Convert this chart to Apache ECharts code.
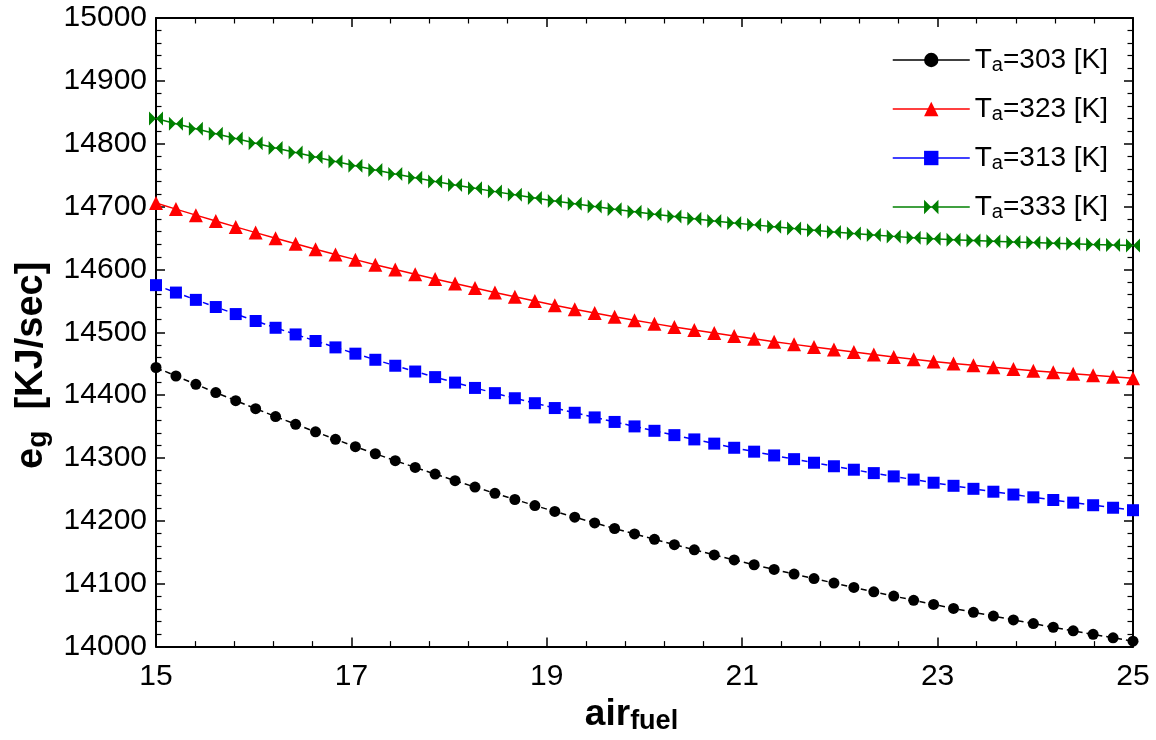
<!DOCTYPE html>
<html>
<head>
<meta charset="utf-8">
<script src="https://cdn.jsdelivr.net/npm/echarts@6/dist/echarts.min.js"></script>
<style>html,body{margin:0;padding:0;background:#fff}#c{width:1156px;height:740px}</style>
</head>
<body>
<div id="c"></div>
<script>
// ---- data ----
const airFuel = [15.000, 15.204, 15.408, 15.612, 15.816, 16.020, 16.224, 16.429, 16.633, 16.837,
  17.041, 17.245, 17.449, 17.653, 17.857, 18.061, 18.265, 18.469, 18.673, 18.878,
  19.082, 19.286, 19.490, 19.694, 19.898, 20.102, 20.306, 20.510, 20.714, 20.918,
  21.122, 21.327, 21.531, 21.735, 21.939, 22.143, 22.347, 22.551, 22.755, 22.959,
  23.163, 23.367, 23.571, 23.776, 23.980, 24.184, 24.388, 24.592, 24.796, 25.000];

const eg303 = [14444.0, 14430.5, 14417.2, 14404.1, 14391.2, 14378.5, 14366.0, 14353.7, 14341.6, 14329.7,
  14318.0, 14306.8, 14295.8, 14285.0, 14274.4, 14264.0, 14253.8, 14243.8, 14234.0, 14224.4,
  14215.0, 14205.8, 14196.8, 14187.9, 14179.2, 14170.6, 14162.2, 14153.9, 14145.8, 14137.8,
  14130.2, 14122.7, 14115.4, 14108.2, 14101.1, 14094.1, 14087.2, 14080.4, 14073.7, 14067.1,
  14060.8, 14054.6, 14048.5, 14042.5, 14036.6, 14030.8, 14025.1, 14019.5, 14014.0, 14008.6];

const eg323 = [14705.7, 14696.0, 14686.4, 14677.0, 14667.7, 14658.6, 14649.6, 14640.8, 14632.2, 14623.8,
  14615.6, 14607.6, 14599.8, 14592.2, 14584.8, 14577.5, 14570.4, 14563.4, 14556.5, 14549.7,
  14543.0, 14536.7, 14530.6, 14524.8, 14519.2, 14513.8, 14508.6, 14503.6, 14498.8, 14494.2,
  14489.6, 14485.1, 14480.8, 14476.6, 14472.5, 14468.5, 14464.6, 14460.8, 14457.1, 14453.6,
  14450.4, 14447.4, 14444.5, 14441.7, 14439.0, 14436.4, 14433.9, 14431.5, 14429.2, 14427.0];

const eg313 = [14575.0, 14563.2, 14551.6, 14540.2, 14529.0, 14518.0, 14507.2, 14496.6, 14486.2, 14476.0,
  14466.0, 14456.3, 14446.8, 14437.6, 14428.7, 14420.0, 14411.5, 14403.2, 14395.1, 14387.2,
  14379.5, 14372.0, 14364.6, 14357.4, 14350.3, 14343.3, 14336.4, 14329.6, 14322.9, 14316.3,
  14310.1, 14304.1, 14298.2, 14292.5, 14286.9, 14281.4, 14276.0, 14270.8, 14265.7, 14260.7,
  14255.8, 14251.0, 14246.4, 14241.9, 14237.5, 14233.2, 14229.0, 14224.9, 14220.9, 14217.0];

const eg333 = [14840.2, 14831.9, 14823.8, 14815.9, 14808.2, 14800.6, 14793.2, 14785.9, 14778.8, 14771.8,
  14765.0, 14758.3, 14751.8, 14745.8, 14740.0, 14734.4, 14729.0, 14723.8, 14718.7, 14713.8,
  14709.0, 14704.4, 14700.0, 14695.8, 14691.8, 14687.9, 14684.2, 14680.6, 14677.2, 14674.0,
  14670.9, 14667.9, 14665.0, 14662.3, 14659.7, 14657.2, 14654.8, 14652.6, 14650.5, 14648.7,
  14647.4, 14646.2, 14645.0, 14643.8, 14642.7, 14641.7, 14640.7, 14639.7, 14638.8, 14638.0];

const seriesNames = ['T_a=303 [K]', 'T_a=323 [K]', 'T_a=313 [K]', 'T_a=333 [K]'];
const xTicks = { min: 15, max: 25, step: 2 };
const yTicks = { min: 14000, max: 15000, step: 100 };
const xTitle = ['air', 'fuel'];
const yTitle = ['e', 'g', '  [KJ/sec]'];

// ---- chart ----
const FONT = '"Liberation Sans", Arial, Helvetica, sans-serif';
const pairs = ys => airFuel.map((x, i) => [x, ys[i]]);
const bowtie = 'path://M0,0L6,6L0,12ZM12,0L6,6L12,12Z';

function frameAxis(base, show, margin) {
  return Object.assign({
    type: 'value',
    axisLine: { show: true, onZero: false, lineStyle: { color: '#000', width: 2 } },
    axisTick: { show: true, inside: true, length: 9, lineStyle: { color: '#000', width: 1.5 } },
    minorTick: { show: true, splitNumber: 5, length: 5.5, lineStyle: { color: '#000', width: 1.2 } },
    splitLine: { show: false },
    minorSplitLine: { show: false },
    axisLabel: show ? { show: true, color: '#000', fontSize: 30, fontFamily: FONT, margin: margin,
                        formatter: v => String(v) } : { show: false }
  }, base);
}

const chart = echarts.init(document.getElementById('c'), null, { renderer: 'canvas' });
const option = {
  animation: false,
  backgroundColor: '#fff',
  grid: { left: 156, right: 23, top: 18, bottom: 90 },
  xAxis: [
    frameAxis({
      position: 'bottom', min: xTicks.min, max: xTicks.max, interval: xTicks.step,
      name: '{b|' + xTitle[0] + '}{s|' + xTitle[1] + '}',
      nameLocation: 'middle', nameGap: 17,
      nameTextStyle: {
        color: '#000',
        padding: [0, 26, 0, 0],
        rich: {
          b: { fontSize: 37, fontWeight: 'bold', fontFamily: FONT, color: '#000', lineHeight: 40 },
          s: { fontSize: 27, fontWeight: 'bold', fontFamily: FONT, color: '#000', lineHeight: 18, verticalAlign: 'bottom' }
        }
      }
    }, true, 15),
    frameAxis({ position: 'top', min: xTicks.min, max: xTicks.max, interval: xTicks.step }, false)
  ],
  yAxis: [
    frameAxis({
      position: 'left', min: yTicks.min, max: yTicks.max, interval: yTicks.step,
      name: '{b|' + yTitle[0] + '}{s|' + yTitle[1] + '}{b|' + yTitle[2] + '}',
      nameLocation: 'middle', nameGap: 104, nameRotate: 90,
      nameTextStyle: {
        color: '#000',
        padding: [0, 66, 0, 0],
        rich: {
          b: { fontSize: 38, fontWeight: 'bold', fontFamily: FONT, color: '#000', lineHeight: 40 },
          s: { fontSize: 28, fontWeight: 'bold', fontFamily: FONT, color: '#000', lineHeight: 18, verticalAlign: 'bottom' }
        }
      }
    }, true, 9),
    frameAxis({ position: 'right', min: yTicks.min, max: yTicks.max, interval: yTicks.step }, false)
  ],
  legend: {
    orient: 'vertical', left: 887, top: 41,
    itemWidth: 77, itemHeight: 18, itemGap: 20,
    data: seriesNames,
    selectedMode: false,
    lineStyle: { type: 'solid', width: 1.5 },
    formatter: name => {
      const m = name.match(/^T_a(.*)$/);
      return '{t|T}{s|a}{t|' + m[1] + '}';
    },
    textStyle: {
      color: '#000',
      rich: {
        t: { fontSize: 28, fontFamily: FONT, color: '#000', lineHeight: 30 },
        s: { fontSize: 20, fontFamily: FONT, color: '#000', lineHeight: 14, verticalAlign: 'bottom' }
      }
    }
  },
  series: [
    { name: seriesNames[0], type: 'line', data: pairs(eg303), symbol: 'circle', symbolSize: 11,
      itemStyle: { color: '#000' }, lineStyle: { color: '#000', width: 1.5, type: [6, 4] } },
    { name: seriesNames[1], type: 'line', data: pairs(eg323), symbol: 'triangle', symbolSize: 14,
      itemStyle: { color: '#ff0000' }, lineStyle: { color: '#ff0000', width: 1.5 } },
    { name: seriesNames[2], type: 'line', data: pairs(eg313), symbol: 'rect', symbolSize: 12,
      itemStyle: { color: '#0000ff' }, lineStyle: { color: '#0000ff', width: 1.5, type: [6, 4] } },
    { name: seriesNames[3], type: 'line', data: pairs(eg333), symbol: bowtie, symbolSize: [14, 14],
      itemStyle: { color: '#008000' }, lineStyle: { color: '#008000', width: 1.5 } }
  ]
};
chart.setOption(option);
</script>
</body>
</html>
